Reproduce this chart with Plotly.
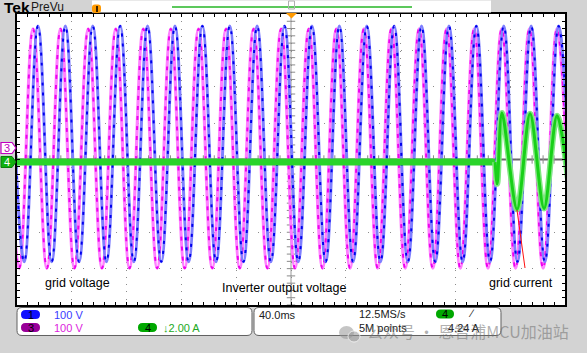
import plotly.graph_objects as go

ms_per_div = 40          # time base
ch1_v_per_div = 100      # grid voltage
ch3_v_per_div = 100      # inverter output voltage
ch4_a_per_div = 2        # grid current
ch1_offset_div = 0.43
ch3_offset_div = 0.30
ch4_offset_div = -0.07

# CH1 (blue) grid voltage: peak / trough instants (ms) and values (V)
grid_v_peak_t = [-4.7, 15.3, 35.3, 55.3, 75.3, 95.3, 115.3, 135.3, 155.3, 175.3, 195.3,
                 215.3, 235.3, 255.3, 275.3, 295.3, 315.3, 335.3, 355.3, 375.3, 395.3]
grid_v_peak_v = [324, 324, 324, 324, 324, 324, 324, 324, 324, 324, 324,
                 324, 324, 324, 324, 324, 324, 324, 324, 324, 324]
grid_v_trough_t = [5.3, 25.3, 45.3, 65.3, 85.3, 105.3, 125.3, 145.3, 165.3, 185.3, 205.3,
                   225.3, 245.3, 265.3, 285.3, 305.3, 325.3, 345.3, 365.3, 385.3, 405.3]
grid_v_trough_v = [-324, -324, -324, -324, -324, -324, -324, -324, -324, -324, -324,
                   -324, -324, -324, -324, -324, -324, -324, -324, -324, -324]

# CH3 (magenta) inverter output voltage (leads the grid, lead shrinks across the record)
inv_v_peak_t = [-8.4, 11.7, 31.8, 52.0, 72.1, 92.2, 112.3, 132.5, 152.6, 172.7, 192.8,
                213.0, 233.1, 253.2, 273.3, 293.5, 313.6, 333.7, 353.8, 374.0, 394.1]
inv_v_peak_v = [329, 329, 329, 329, 329, 329, 329, 329, 329, 329, 329,
                329, 329, 329, 329, 329, 329, 329, 329, 329, 329]
inv_v_trough_t = [1.6, 21.8, 41.9, 62.0, 82.1, 102.3, 122.4, 142.5, 162.6, 182.8, 202.9,
                  223.0, 243.1, 263.3, 283.4, 303.5, 323.6, 343.8, 363.9, 384.0, 404.1]
inv_v_trough_v = [-329, -329, -329, -329, -329, -329, -329, -329, -329, -329, -329,
                  -329, -329, -329, -329, -329, -329, -329, -329, -329, -329]

# CH4 (green) grid current: flat until the inverter connects, then a sine
cur_flat_t = [0, 100, 200, 300, 349]
cur_flat_a = [0, 0, 0, 0, 0]
cur_wave_t = [349, 350.5, 354, 365, 374.5, 384.7, 394.2, 404.5]
cur_wave_a = [0, -1.2, 2.7, -2.6, 2.65, -2.55, 2.55, -2.5]

# ---------------- helpers ----------------
W, H = 587, 353
PL, PR, PT, PB = 17, 565, 14, 305


def px(x):
    return (x - PL) / (PR - PL)


def py(y):
    return (PB - y) / (PB - PT)


def merge(pt, pv, tt, tv, scale, off):
    pts = sorted(zip(pt + tt, pv + tv))
    return [p[0] for p in pts], [p[1] / scale + off for p in pts]


def rrect_path(x0, y0, x1, y1, r):
    pts = [("M", x0 + r, y0), ("L", x1 - r, y0), ("Q", x1, y0, x1, y0 + r),
           ("L", x1, y1 - r), ("Q", x1, y1, x1 - r, y1), ("L", x0 + r, y1),
           ("Q", x0, y1, x0, y1 - r), ("L", x0, y0 + r), ("Q", x0, y0, x0 + r, y0)]
    s = ""
    for p in pts:
        cmd = p[0]
        coords = p[1:]
        parts = []
        for i in range(0, len(coords), 2):
            parts.append(f"{px(coords[i]):.5f},{py(coords[i + 1]):.5f}")
        s += cmd + " " + " ".join(parts) + " "
    return s + "Z"


def poly_path(points):
    s = "M " + " L ".join(f"{px(a):.5f},{py(b):.5f}" for a, b in points)
    return s + " Z"


fig = go.Figure()

# center crosshair
fig.add_shape(type="line", x0=200, x1=200, y0=-4, y1=4, xref="x", yref="y",
              line=dict(color="#9a9a9a", width=1), layer="below")
fig.add_shape(type="line", x0=0, x1=400, y0=0, y1=0, xref="x", yref="y",
              line=dict(color="#6a6a6a", width=2), layer="below")
tick_y = [-4 + 0.2 * i for i in range(41)]
tick_x = [8 * i for i in range(51)]
fig.add_trace(go.Scatter(x=[200] * len(tick_y), y=tick_y, mode="markers",
                         marker=dict(symbol="line-ew", size=6, line=dict(color="#8a8a8a", width=1)),
                         hoverinfo="skip"))
fig.add_trace(go.Scatter(x=tick_x, y=[0] * len(tick_x), mode="markers",
                         marker=dict(symbol="line-ns", size=6, line=dict(color="#8a8a8a", width=1)),
                         hoverinfo="skip"))

# CH3 magenta (behind)
mx, my = merge(inv_v_peak_t, inv_v_peak_v, inv_v_trough_t, inv_v_trough_v, ch3_v_per_div, ch3_offset_div)
fig.add_trace(go.Scatter(x=mx, y=my, mode="lines", line=dict(color="#ff80ff", width=3.2, shape="spline", smoothing=1.2),
                         hoverinfo="skip"))
fig.add_trace(go.Scatter(x=mx, y=my, mode="lines", line=dict(color="#ee00ee", width=2, shape="spline", smoothing=1.2,
                                                              dash="4px,6px"), hoverinfo="skip"))
# CH1 blue
bx, by = merge(grid_v_peak_t, grid_v_peak_v, grid_v_trough_t, grid_v_trough_v, ch1_v_per_div, ch1_offset_div)
fig.add_trace(go.Scatter(x=bx, y=by, mode="lines", line=dict(color="#7f7fff", width=3, shape="spline", smoothing=1.2),
                         hoverinfo="skip"))
fig.add_trace(go.Scatter(x=bx, y=by, mode="lines", line=dict(color="#0000ee", width=2, shape="spline", smoothing=1.2,
                                                              dash="3px,7px"), hoverinfo="skip"))

# CH4 green
fig.add_trace(go.Scatter(x=cur_flat_t, y=[a / ch4_a_per_div + ch4_offset_div for a in cur_flat_a], mode="lines",
                         line=dict(color="#2ad42a", width=7), hoverinfo="skip"))
gy = [a / ch4_a_per_div + ch4_offset_div for a in cur_wave_a]
fig.add_trace(go.Scatter(x=cur_wave_t, y=gy, mode="lines",
                         line=dict(color="#7fe87f", width=6, shape="spline", smoothing=0.9), hoverinfo="skip"))
fig.add_trace(go.Scatter(x=cur_wave_t, y=gy, mode="lines",
                         line=dict(color="#18d018", width=3, shape="spline", smoothing=0.9), hoverinfo="skip"))

shapes = []
ann = []

# red pointer lines
for (x0, y0, x1, y1) in [(51, 244, 65, 275), (183, 255, 195, 283), (517, 210, 525, 268)]:
    shapes.append(dict(type="line", xref="paper", yref="paper", x0=px(x0), y0=py(y0), x1=px(x1), y1=py(y1),
                       line=dict(color="#ff1010", width=1)))

for txt, x, y in [("grid voltage", 43, 283), ("Inverter output voltage", 220, 288), ("grid current", 487, 283)]:
    ann.append(dict(text=txt, x=px(x), y=py(y), xref="paper", yref="paper", xanchor="left", yanchor="middle",
                    showarrow=False, font=dict(family="Liberation Sans, Arial", size=12.5, color="#000000")))

# top bar
shapes.append(dict(type="rect", xref="paper", yref="paper", x0=px(92), x1=px(491), y0=py(0.5), y1=py(12.5),
                   fillcolor="#ffffff", line=dict(width=0)))
shapes.append(dict(type="line", xref="paper", yref="paper", x0=px(172), x1=px(412), y0=py(7), y1=py(7),
                   line=dict(color="#5cc85c", width=2)))
shapes.append(dict(type="path", xref="paper", yref="paper", path=rrect_path(92, 4.5, 101, 13, 3),
                   fillcolor="#ff9900", line=dict(width=0)))
shapes.append(dict(type="line", xref="paper", yref="paper", x0=px(97), x1=px(97), y0=py(6), y1=py(12),
                   line=dict(color="#000000", width=1.5)))
shapes.append(dict(type="rect", xref="paper", yref="paper", x0=px(288.5), x1=px(294.5), y0=py(1), y1=py(9),
                   fillcolor="rgba(0,0,0,0)", line=dict(color="#b0b0b0", width=1)))
shapes.append(dict(type="path", xref="paper", yref="paper", path=poly_path([(286, 13), (297, 13), (291.5, 18.5)]),
                   fillcolor="#ff9900", line=dict(width=0)))
ann.append(dict(text="<b>Tek</b>", x=px(1.5), y=py(7), xref="paper", yref="paper", xanchor="left", yanchor="middle",
                showarrow=False, font=dict(family="Liberation Sans, Arial", size=15.5, color="#000000")))
ann.append(dict(text="PreVu", x=px(29), y=py(7), xref="paper", yref="paper", xanchor="left", yanchor="middle",
                showarrow=False, font=dict(family="Liberation Sans, Arial", size=12, color="#1a1a1a")))

# left channel markers
shapes.append(dict(type="path", xref="paper", yref="paper",
                   path=poly_path([(1, 142.5), (12, 142.5), (16, 148), (12, 153.5), (1, 153.5)]),
                   fillcolor="#ffffff", line=dict(color="#c000c0", width=1.2)))
ann.append(dict(text="3", x=px(7), y=py(148), xref="paper", yref="paper", xanchor="center", yanchor="middle",
                showarrow=False, font=dict(family="Liberation Sans, Arial", size=11, color="#c000c0")))
shapes.append(dict(type="path", xref="paper", yref="paper",
                   path=poly_path([(1, 156.5), (12, 156.5), (16, 162), (12, 167.5), (1, 167.5)]),
                   fillcolor="#10b010", line=dict(color="#0a800a", width=1)))
ann.append(dict(text="4", x=px(7), y=py(162), xref="paper", yref="paper", xanchor="center", yanchor="middle",
                showarrow=False, font=dict(family="Liberation Sans, Arial", size=11, color="#ffffff")))

# bottom info boxes
shapes.append(dict(type="path", xref="paper", yref="paper", path=rrect_path(17, 307.5, 252, 335.5, 5),
                   fillcolor="#ffffff", line=dict(color="#606060", width=1)))
shapes.append(dict(type="path", xref="paper", yref="paper", path=rrect_path(254, 307.5, 501, 335.5, 5),
                   fillcolor="#ffffff", line=dict(color="#606060", width=1)))

for (x0, y0, x1, y1, col, lab) in [(21, 310, 40, 319, "#1010ff", "1"), (21, 323, 40, 332, "#990099", "3"),
                                    (138, 323, 157, 332, "#00a800", "4"), (436, 309.5, 454, 318.5, "#00a800", "4")]:
    shapes.append(dict(type="path", xref="paper", yref="paper", path=rrect_path(x0, y0, x1, y1, 4.5),
                       fillcolor=col, line=dict(width=0)))
    ann.append(dict(text=lab, x=px((x0 + x1) / 2), y=py((y0 + y1) / 2), xref="paper", yref="paper",
                    xanchor="center", yanchor="middle", showarrow=False,
                    font=dict(family="Liberation Sans, Arial", size=11, color="#000000")))

info = [("100 V", 52, 314.5, "#3a3aff"), ("100 V", 52, 327.5, "#dd22dd"), ("↓2.00 A", 161, 327.5, "#22aa22"),
        ("40.0ms", 257, 315, "#202020"), ("12.5MS/s", 357, 314, "#202020"), ("5M points", 357, 327.5, "#202020"),
        ("4.24 A", 446, 327.5, "#202020"), ("∕", 466, 313.5, "#202020")]
for txt, x, y, col in info:
    ann.append(dict(text=txt, x=px(x), y=py(y), xref="paper", yref="paper", xanchor="left", yanchor="middle",
                    showarrow=False, font=dict(family="Liberation Sans, Arial", size=11, color=col)))

# watermark
shapes.append(dict(type="circle", xref="paper", yref="paper", x0=px(339), x1=px(354), y0=py(339), y1=py(326),
                   fillcolor="rgba(150,150,150,0.55)", line=dict(width=0)))
shapes.append(dict(type="circle", xref="paper", yref="paper", x0=px(348), x1=px(360), y0=py(342), y1=py(331),
                   fillcolor="rgba(150,150,150,0.55)", line=dict(color="rgba(255,255,255,0.7)", width=1)))
ann.append(dict(text="公众号 · 恩智浦MCU加油站", x=px(365), y=py(331), xref="paper", yref="paper", xanchor="left",
                yanchor="middle", showarrow=False,
                font=dict(family="Noto Sans CJK SC", size=16, color="rgba(110,110,110,0.55)")))

fig.update_layout(
    width=W, height=H,
    margin=dict(l=PL, r=W - PR, t=PT, b=H - PB, pad=0),
    paper_bgcolor="#d3d3d3", plot_bgcolor="#ffffff",
    showlegend=False, shapes=shapes, annotations=ann, hovermode=False,
    xaxis=dict(range=[0, 10 * ms_per_div], dtick=ms_per_div, showgrid=True, gridcolor="#8c8c8c", gridwidth=1,
               griddash="1px,6.3px", zeroline=False, showticklabels=False, showline=True, linecolor="#000000",
               linewidth=1.5, mirror="allticks", ticks="inside", ticklen=3, tickcolor="#000000",
               minor=dict(dtick=ms_per_div / 5, ticks="inside", ticklen=3, tickcolor="#000000", showgrid=False),
               fixedrange=True),
    yaxis=dict(range=[-4, 4], dtick=1, showgrid=True, gridcolor="#8c8c8c", gridwidth=1,
               griddash="1px,9.96px", zeroline=False, showticklabels=False, showline=True, linecolor="#000000",
               linewidth=1.5, mirror="allticks", ticks="inside", ticklen=3, tickcolor="#000000",
               minor=dict(dtick=0.2, ticks="inside", ticklen=3, tickcolor="#000000", showgrid=False),
               fixedrange=True),
)

fig.write_html("out.html")
